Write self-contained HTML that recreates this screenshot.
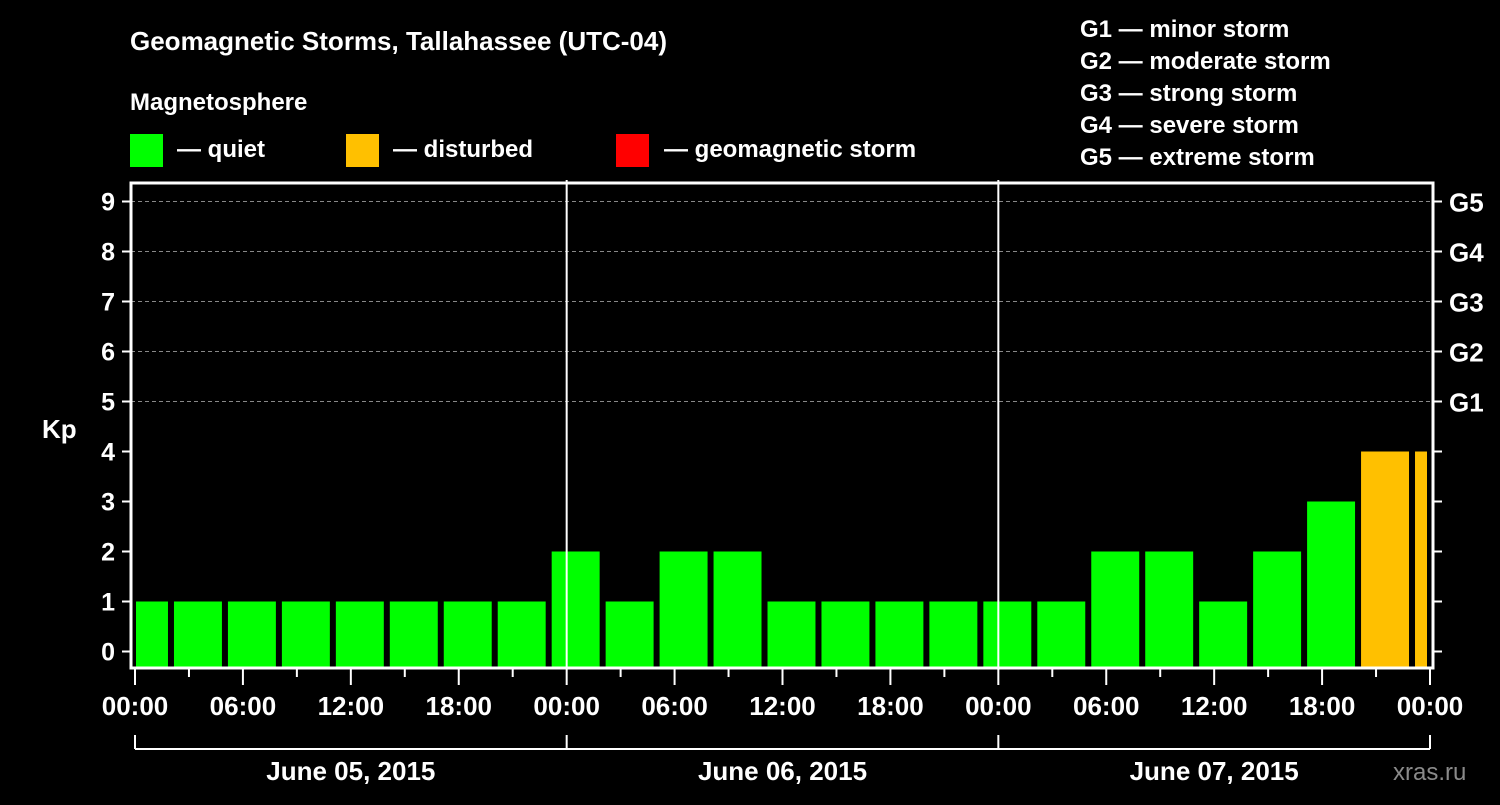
<!DOCTYPE html>
<html><head><meta charset="utf-8"><style>
html,body{margin:0;padding:0;background:#000;}
svg text{font-family:"Liberation Sans",sans-serif;font-weight:bold;fill:#fff;}
</style></head><body>
<svg width="1500" height="800" viewBox="0 0 1500 800">
<text x="130" y="50" font-size="26">Geomagnetic Storms, Tallahassee (UTC-04)</text>
<text x="130" y="110" font-size="24">Magnetosphere</text>
<rect x="130" y="134" width="33" height="33" fill="#00ff00"/>
<text x="177" y="157" font-size="24">— quiet</text>
<rect x="346" y="134" width="33" height="33" fill="#ffc000"/>
<text x="393" y="157" font-size="24">— disturbed</text>
<rect x="616" y="134" width="33" height="33" fill="#ff0000"/>
<text x="664" y="157" font-size="24">— geomagnetic storm</text>
<g font-size="24">
<text x="1080" y="37">G1 — minor storm</text>
<text x="1080" y="69">G2 — moderate storm</text>
<text x="1080" y="101">G3 — strong storm</text>
<text x="1080" y="133">G4 — severe storm</text>
<text x="1080" y="165">G5 — extreme storm</text>
</g>
<text x="42" y="438" font-size="26">Kp</text>
<text x="1393" y="780" font-size="24" fill="#888" style="fill:#8a8a8a;font-weight:normal">xras.ru</text>
<g id="plot"></g>
</svg>
<script>
const kpValues=[1,1,1,1,1,1,1,1,2,1,2,2,1,1,1,1,1,1,2,2,1,2,3,4,4];
const yTicks=[0,1,2,3,4,5,6,7,8,9];
const gLabels=["G1","G2","G3","G4","G5"];
const gLevels=[5,6,7,8,9];
const xTickLabels=["00:00","06:00","12:00","18:00","00:00","06:00","12:00","18:00","00:00","06:00","12:00","18:00","00:00"];
const dayLabels=["June 05, 2015","June 06, 2015","June 07, 2015"];
const NS="http://www.w3.org/2000/svg";
const g=document.getElementById('plot');
const L=131,R=1433,T=183,B=668,X0=135,X1=1430;
const hours=72;
function xs(h){return X0+(X1-X0)*h/hours;}
function ys(v){return 651.5-50*v;}
function mk(tag,a,parent){const e=document.createElementNS(NS,tag);for(const k in a)e.setAttribute(k,a[k]);(parent||g).appendChild(e);return e;}
// gridlines
for(const v of gLevels){const l=mk('line',{x1:L,x2:R,y1:ys(v),y2:ys(v),stroke:'#888','stroke-dasharray':'4,3','stroke-width':1});

}
// bars: 3-hour UTC slots, local offset -4h -> slot starts at 2h local
kpValues.forEach((v,i)=>{
 let h0=2+3*(i-1),h1=h0+3;
 let x0=xs(h0)+3,x1=xs(h1)-3;
 x0=Math.max(x0,X0+1);x1=Math.min(x1,X1-3);
 if(x1<=x0)return;
 const c=v>=5?'#ff0000':(v>=4?'#ffc000':'#00ff00');
 const r=mk('rect',{x:x0,y:ys(v),width:x1-x0,height:B-1-ys(v),fill:c});
 
 
});
// day separators
for(let d=1;d<3;d++){const l=mk('line',{x1:xs(d*24),x2:xs(d*24),y1:180,y2:B,stroke:'#fff','stroke-width':2});

}
// frame
const fr=mk('path',{d:`M${L},${T} H${R} V${B} H${L} Z`,fill:'none',stroke:'#fff','stroke-width':3});


// y ticks
yTicks.forEach(v=>{
 mk('line',{x1:L-9,x2:L,y1:ys(v),y2:ys(v),stroke:'#fff','stroke-width':2});
 mk('line',{x1:R,x2:R+9,y1:ys(v),y2:ys(v),stroke:'#fff','stroke-width':2});
 const t=mk('text',{x:115,y:ys(v)+9,'font-size':25,'text-anchor':'end'});t.textContent=v;
 
 
});
gLabels.forEach((s,i)=>{const t=mk('text',{x:1449,y:ys(gLevels[i])+10,'font-size':26});t.textContent=s;
 
 });
// x ticks
for(let h=0;h<=hours;h+=3){const major=h%6===0;
 mk('line',{x1:xs(h),x2:xs(h),y1:B,y2:B+(major?17:9),stroke:'#fff','stroke-width':2});}
xTickLabels.forEach((s,i)=>{const t=mk('text',{x:xs(i*6),y:715,'font-size':26,'text-anchor':'middle'});t.textContent=s;
 
 });
// day brackets
mk('line',{x1:xs(0),x2:xs(72),y1:749,y2:749,stroke:'#fff','stroke-width':2});
for(let d=0;d<=3;d++)mk('line',{x1:xs(d*24),x2:xs(d*24),y1:735,y2:749,stroke:'#fff','stroke-width':2});
dayLabels.forEach((s,i)=>{const t=mk('text',{x:xs(i*24+12),y:780,'font-size':26,'text-anchor':'middle'});t.textContent=s;
 
 });
</script>
</body></html>
